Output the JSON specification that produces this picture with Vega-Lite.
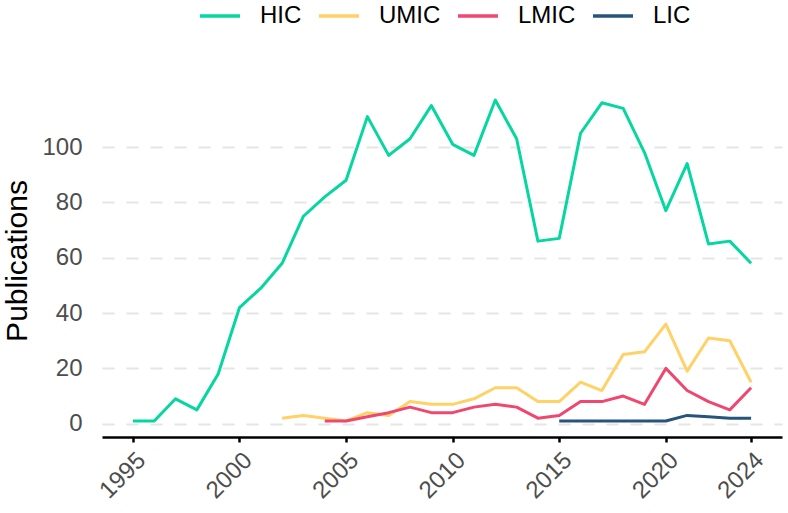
{
  "$schema": "https://vega.github.io/schema/vega-lite/v6.json",
  "width": 680,
  "height": 353,
  "autosize": {"type": "none"},
  "padding": {"left": 102, "top": 84, "right": 6, "bottom": 76},
  "background": "white",
  "config": {
    "view": {"stroke": null},
    "font": "Liberation Sans"
  },
  "data": {
    "values": [
      {"year": 1995, "group": "HIC", "n": 1},
      {"year": 1996, "group": "HIC", "n": 1},
      {"year": 1997, "group": "HIC", "n": 9},
      {"year": 1998, "group": "HIC", "n": 5},
      {"year": 1999, "group": "HIC", "n": 18},
      {"year": 2000, "group": "HIC", "n": 42},
      {"year": 2001, "group": "HIC", "n": 49},
      {"year": 2002, "group": "HIC", "n": 58},
      {"year": 2003, "group": "HIC", "n": 75},
      {"year": 2004, "group": "HIC", "n": 82},
      {"year": 2005, "group": "HIC", "n": 88},
      {"year": 2006, "group": "HIC", "n": 111},
      {"year": 2007, "group": "HIC", "n": 97},
      {"year": 2008, "group": "HIC", "n": 103},
      {"year": 2009, "group": "HIC", "n": 115},
      {"year": 2010, "group": "HIC", "n": 101},
      {"year": 2011, "group": "HIC", "n": 97},
      {"year": 2012, "group": "HIC", "n": 117},
      {"year": 2013, "group": "HIC", "n": 103},
      {"year": 2014, "group": "HIC", "n": 66},
      {"year": 2015, "group": "HIC", "n": 67},
      {"year": 2016, "group": "HIC", "n": 105},
      {"year": 2017, "group": "HIC", "n": 116},
      {"year": 2018, "group": "HIC", "n": 114},
      {"year": 2019, "group": "HIC", "n": 98},
      {"year": 2020, "group": "HIC", "n": 77},
      {"year": 2021, "group": "HIC", "n": 94},
      {"year": 2022, "group": "HIC", "n": 65},
      {"year": 2023, "group": "HIC", "n": 66},
      {"year": 2024, "group": "HIC", "n": 58},
      {"year": 2002, "group": "UMIC", "n": 2},
      {"year": 2003, "group": "UMIC", "n": 3},
      {"year": 2004, "group": "UMIC", "n": 2},
      {"year": 2005, "group": "UMIC", "n": 1},
      {"year": 2006, "group": "UMIC", "n": 4},
      {"year": 2007, "group": "UMIC", "n": 3},
      {"year": 2008, "group": "UMIC", "n": 8},
      {"year": 2009, "group": "UMIC", "n": 7},
      {"year": 2010, "group": "UMIC", "n": 7},
      {"year": 2011, "group": "UMIC", "n": 9},
      {"year": 2012, "group": "UMIC", "n": 13},
      {"year": 2013, "group": "UMIC", "n": 13},
      {"year": 2014, "group": "UMIC", "n": 8},
      {"year": 2015, "group": "UMIC", "n": 8},
      {"year": 2016, "group": "UMIC", "n": 15},
      {"year": 2017, "group": "UMIC", "n": 12},
      {"year": 2018, "group": "UMIC", "n": 25},
      {"year": 2019, "group": "UMIC", "n": 26},
      {"year": 2020, "group": "UMIC", "n": 36},
      {"year": 2021, "group": "UMIC", "n": 19},
      {"year": 2022, "group": "UMIC", "n": 31},
      {"year": 2023, "group": "UMIC", "n": 30},
      {"year": 2024, "group": "UMIC", "n": 15},
      {"year": 2004, "group": "LMIC", "n": 1},
      {"year": 2005, "group": "LMIC", "n": 1},
      {"year": 2006, "group": "LMIC", "n": 2.5},
      {"year": 2007, "group": "LMIC", "n": 4},
      {"year": 2008, "group": "LMIC", "n": 6},
      {"year": 2009, "group": "LMIC", "n": 4},
      {"year": 2010, "group": "LMIC", "n": 4},
      {"year": 2011, "group": "LMIC", "n": 6},
      {"year": 2012, "group": "LMIC", "n": 7},
      {"year": 2013, "group": "LMIC", "n": 6},
      {"year": 2014, "group": "LMIC", "n": 2},
      {"year": 2015, "group": "LMIC", "n": 3},
      {"year": 2016, "group": "LMIC", "n": 8},
      {"year": 2017, "group": "LMIC", "n": 8},
      {"year": 2018, "group": "LMIC", "n": 10},
      {"year": 2019, "group": "LMIC", "n": 7},
      {"year": 2020, "group": "LMIC", "n": 20},
      {"year": 2021, "group": "LMIC", "n": 12},
      {"year": 2022, "group": "LMIC", "n": 8},
      {"year": 2023, "group": "LMIC", "n": 5},
      {"year": 2024, "group": "LMIC", "n": 13},
      {"year": 2015, "group": "LIC", "n": 1},
      {"year": 2016, "group": "LIC", "n": 1},
      {"year": 2017, "group": "LIC", "n": 1},
      {"year": 2018, "group": "LIC", "n": 1},
      {"year": 2019, "group": "LIC", "n": 1},
      {"year": 2020, "group": "LIC", "n": 1},
      {"year": 2021, "group": "LIC", "n": 3},
      {"year": 2022, "group": "LIC", "n": 2.5},
      {"year": 2023, "group": "LIC", "n": 2},
      {"year": 2024, "group": "LIC", "n": 2}
    ]
  },
  "mark": {"type": "line", "strokeWidth": 3, "strokeJoin": "round"},
  "encoding": {
    "x": {
      "field": "year",
      "type": "quantitative",
      "scale": {"domain": [1993.55, 2025.45], "nice": false, "zero": false},
      "axis": {
        "title": null,
        "values": [1995, 2000, 2005, 2010, 2015, 2020, 2024],
        "format": "d",
        "grid": false,
        "domain": true,
        "domainColor": "black",
        "domainWidth": 2.5,
        "ticks": true,
        "tickColor": "black",
        "tickWidth": 2.5,
        "tickSize": 5,
        "labelAngle": -45,
        "labelAlign": "right",
        "labelBaseline": "top",
        "labelPadding": 6,
        "labelFontSize": 24,
        "labelColor": "#4D4D4D",
        "labelFont": "Liberation Sans",
        "labelOverlap": false,
        "labelFlush": false
      }
    },
    "y": {
      "field": "n",
      "type": "quantitative",
      "scale": {"domain": [-4.8, 122.8], "nice": false, "zero": false},
      "axis": {
        "title": "Publications",
        "titleFontSize": 30,
        "titleFontWeight": "normal",
        "titleColor": "black",
        "titleFont": "Liberation Sans",
        "titlePadding": 9,
        "values": [0, 20, 40, 60, 80, 100],
        "domain": false,
        "ticks": false,
        "tickSize": 0,
        "labelPadding": 20,
        "labelFontSize": 24,
        "labelColor": "#4D4D4D",
        "labelFont": "Liberation Sans",
        "grid": true,
        "gridColor": "#E5E5E5",
        "gridWidth": 2,
        "gridDash": [12, 12]
      }
    },
    "color": {
      "field": "group",
      "type": "nominal",
      "scale": {
        "domain": ["HIC", "UMIC", "LMIC", "LIC"],
        "range": ["#06D6A0", "#FFD166", "#EF476F", "#26547C"]
      },
      "legend": {
        "title": null,
        "orient": "none",
        "direction": "horizontal",
        "legendX": 96,
        "legendY": -90,
        "symbolType": "stroke",
        "symbolSize": 1600,
        "symbolStrokeWidth": 3.5,
        "labelFontSize": 24,
        "labelFont": "Liberation Sans",
        "labelColor": "black",
        "labelOffset": 18,
        "columnPadding": 10
      }
    }
  }
}
